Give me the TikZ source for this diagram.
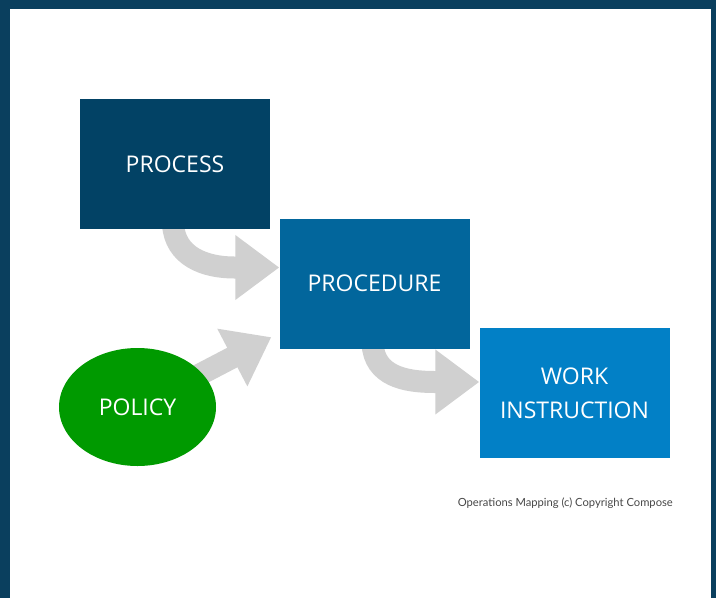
\documentclass[tikz,border=0pt]{standalone}
\usepackage{fontspec}
\setmainfont{Open Sans}
\newfontfamily\notefont{Lato}
\usetikzlibrary{arrows.meta,shapes.geometric,backgrounds}

\definecolor{frameblue}{HTML}{0A3F5E}
\definecolor{processblue}{HTML}{024265}
\definecolor{procedureblue}{HTML}{02669C}
\definecolor{workblue}{HTML}{0280C6}
\definecolor{policygreen}{HTML}{009A00}
\definecolor{arrowgray}{HTML}{D0D0D0}

\tikzset{
  stagebox/.style={rectangle, minimum width=190pt, minimum height=130pt,
    inner sep=0pt, text=white, align=center,
    font=\fontsize{23}{34}\selectfont},
  flowarrow/.style={draw=arrowgray, line width=22pt,
    -{Triangle[length=44pt,width=62pt]}}
}

\begin{document}
\begin{tikzpicture}[x=1pt,y=-1pt]

\useasboundingbox (0,0) rectangle (716,598);

\node[stagebox, fill=processblue] (process) at (175,164) {PROCESS};
\node[stagebox, fill=procedureblue] (procedure) at (374.5,283.5) {PROCEDURE};
\node[stagebox, fill=workblue] (work) at (574.5,393) {WORK\\INSTRUCTION};
\node[ellipse, fill=policygreen, minimum width=157pt, minimum height=118pt,
  inner sep=0pt, text=white, font=\fontsize{23}{28}\selectfont]
  (policy) at (137.5,407) {POLICY};

\node[anchor=east, inner sep=0pt, text=black!72,
  font=\notefont\fontsize{11.2}{13}\selectfont]
  (note) at (673,503) {Operations Mapping (c) Copyright Compose};

\begin{pgfonlayer}{background}
% frame and page
\fill[frameblue] (0,0) rectangle (716,598);
\fill[white] (10,9) rectangle (711,598);
% grey flow arrows
\draw[flowarrow] ([xshift=-2pt,yshift=5pt]process.south)
  .. controls +(2,32) and +(-30,0) .. ([xshift=-45pt,yshift=16pt]procedure.west)
  -- ([yshift=16pt]procedure.west);
\draw[flowarrow, shorten >=9pt, shorten <=-14pt] (policy) -- (procedure);
\draw[flowarrow] ([xshift=-2pt,yshift=5pt]procedure.south)
  .. controls +(2,32) and +(-30,0) .. ([xshift=-45pt,yshift=11pt]work.west)
  -- ([yshift=11pt]work.west);
\end{pgfonlayer}

\end{tikzpicture}
\end{document}
